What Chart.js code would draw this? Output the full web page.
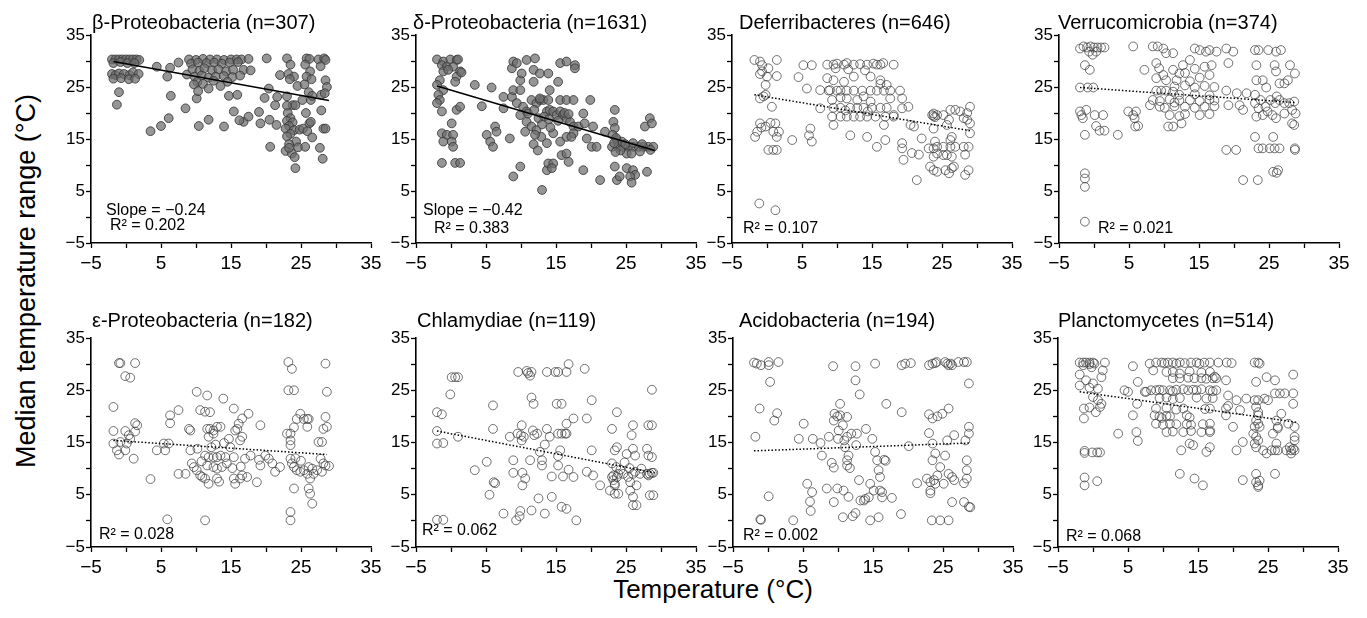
<!DOCTYPE html>
<html>
<head>
<meta charset="utf-8">
<script src="https://cdn.jsdelivr.net/npm/chart.js@4.4.1/dist/chart.umd.min.js"></script>
<style>
  body { margin: 0; background: #fff; }
  #wrap { position: relative; width: 1367px; height: 618px; overflow: hidden; font-family: "Liberation Sans", Arial, sans-serif; }
  #wrap canvas { position: absolute; }
  .axt { position: absolute; color: #000; white-space: nowrap; line-height: 1; }
  #ytitle { left: 26px; top: 281px; font-size: 27px; transform: translate(-50%, -50%) rotate(-90deg); }
  #xtitle { left: 713px; top: 576px; font-size: 26px; transform: translateX(-50%); }
</style>
</head>
<body>
<div id="wrap">
  <div class="axt" id="ytitle">Median temperature range (°C)</div>
  <div class="axt" id="xtitle">Temperature (°C)</div>
</div>
<script>
// panel info
const names = ["β-Proteobacteria", "δ-Proteobacteria", "Deferribacteres", "Verrucomicrobia",
               "ε-Proteobacteria", "Chlamydiae", "Acidobacteria", "Planctomycetes"];
const counts = [307, 1631, 646, 374, 182, 119, 194, 514];
const slopes = ["−0.24", "−0.42", null, null, null, null, null, null];
const r2 = ["0.202", "0.383", "0.107", "0.021", "0.028", "0.062", "0.002", "0.068"];
const filled = [true, true, false, false, false, false, false, false];

// regression lines: [x0, y0, x1, y1]
const fits = [
  [-1.8, 29.9, 29, 22.4],
  [-2, 25.2, 29.1, 12.8],
  [-1.8, 23.5, 29, 16.6],
  [-2, 24.9, 28.9, 22.0],
  [-1.8, 15.4, 28.7, 12.7],
  [-2, 17.2, 29.1, 9.2],
  [-2, 13.4, 28.7, 14.9],
  [-1.9, 24.7, 29, 18.9]
];

// axis ticks (labels only every 10)
const tickMin = -5, tickMax = 35, tickStep = 5;

// points [temperature, median range]
const betaPts = [[-2,30.3],[-1.5,30.3],[-1,30.3],[-0.5,30.3],[0,30.3],[0.5,30.3],[1,30.3],[1.5,30.3],[1.9,30.2],
  [-1.8,29.6],[-0.8,29.8],[0.2,29.6],[1.2,29.6],[-2,27.5],[-1.5,27.3],[-1,27.6],[-0.3,27.5],[0.5,27.3],[1,27.8],[1.8,27.5],
  [-1.8,26.6],[-0.7,26.7],[0.4,26.5],[1.3,26.6],[-1,24],[-1.3,21.6],
  [3.5,16.5],[5,17.5],[6.1,19],[6.4,23.3],[4.4,28.9],[5.9,27],[6.3,28.7],[7.5,29.7],[8.7,27.4],
  [9,30.3],[10,30.2],[11,30.4],[12,30.3],[13,30.3],[14,30.2],[15,30.3],[15.8,30.3],[16.5,30.3],[17.5,30.4],
  [9.3,29.5],[10.3,29.7],[11.5,29.6],[12.6,29.7],[13.7,29.5],[14.8,29.7],[16,29.8],
  [9.5,28.4],[10.5,28.1],[11.2,28.6],[12.3,28.2],[13.2,28.4],[14.3,28],[15.3,28.3],[16.8,28.3],[17.8,28.2],
  [9.8,27],[10.8,27.2],[11.8,26.8],[12.8,27],[14,27.1],[15.2,26.9],[16.3,27.2],
  [10.2,26],[11,25.6],[12.5,26.2],[14.5,26],[9.7,25.5],
  [8.5,20.9],[10.4,17.5],[11.8,18.7],[14,17.4],[14.7,23.3],[15.9,23.5],[15.4,20.3],[11.8,24.7],[13.5,25.2],[10.1,22.8],[10.3,24.2],[16.8,18.3],[17.5,19.3],[16.2,18.6],
  [20.1,30.5],[20.4,24.7],[19.2,18],[20.5,18.7],[20.6,13.5],[21.3,21.5],[21.5,17.7],[21.6,23.1],[22,27.3],[19,20.2],[19.8,22.9],
  [23,30.5],[23.5,29.3],[23.2,27.5],[24,27],[23.4,26.5],[24.5,25.2],[23,23.2],[23.8,21.5],[23,21.4],[24.2,21.5],[23.1,20],[23.5,19],[23,18.5],[23.8,18.2],[23.3,17.5],[22.8,17],[24,16.7],[23.5,16],[23,15.5],[24.3,14.5],[23.3,14],[24.6,13.4],[22.8,12.7],[23.7,12.2],[24.1,11.5],[24.2,9.4],[23.3,13.3],[24.8,16.8],
  [25.8,30.5],[26.2,30.4],[25.6,29.3],[26.3,28],[25.8,27],[26.5,26.5],[25.5,25.5],[26.1,24],[26.4,22.5],[25.7,20],[26.2,18],[25.3,17],[25.9,16.5],[26.6,15.3],[25.6,13.5],[26.4,18.3],[25.2,22.5],[26.6,23.3],
  [27.5,30.3],[28.3,30.5],[28.5,30.2],[27.8,29],[28.5,26.3],[28.7,25],[27.9,23.5],[28.4,23.8],[28.2,17],[28.5,17],[27.7,13.3],[28.1,11.2],[27.9,20.5]];

const deltaPts = [[-2,30.3],[-1.1,29.9],[-0.1,30.3],[0.8,30.2],[1,30.3],[-1.3,29.2],[-0.6,28.9],[0.3,28.9],[-1.1,28],[-0.4,28.3],[1.3,28],[0.8,27],[-1.6,26.3],[-2,25.4],[-1.1,24.4],[-1.8,23.5],[-1.6,22.5],[-2,21.9],[-1.3,20.3],[0.8,20.6],[1.3,21.2],[0.1,18],[-1.3,16.1],[-0.6,15.8],[0.3,15.8],[-1.1,14.5],[0.1,14.5],[0.3,13.5],[-1.3,10.4],[0.6,10.4],[1.3,10.4],[1.5,27.8],[0.6,26],
  [3.4,25.4],[5.8,24.9],[4.4,21.3],[5.1,15.8],[5.6,14.5],[6,13.5],[6.3,17.4],[6.5,16.4],[7.5,23.1],[7.5,20.9],[8.4,15.1],[8.9,7.8],[8.7,23.1],[8.9,24.4],[8.7,28.6],[8.9,29.9],[9.4,29.6],[9.9,26.3],[10.1,27.6],
  [9.9,24.4],[9.4,21.9],[10.3,21.2],[10.8,20.3],[11.5,22.5],[12.2,21.9],[12.7,22.5],[13.2,22.5],[13.7,20.3],[14.1,20.6],[14.6,20.3],[15.1,19.6],[15.6,20.3],[16,19.6],[16.5,19],[17,18.3],[17.5,17.4],[9.9,19.6],[10.8,18.3],[11.5,17.4],[12.2,16.7],[12.9,15.4],[13.7,14.2],[14.6,16.1],[15.6,14.5],[16.5,15.4],[17.5,16.1],[18.2,17.4],
  [11,19.9],[11.9,20.6],[12.5,19],[13.3,19.3],[14,18.8],[15.3,18.5],[16.2,20],[16.8,19.8],[13,17.8],[12,15.8],[11.8,14],[10.6,16.4],[12.4,12.8],[14.2,17.2],
  [10.8,30.2],[12,30.5],[11.8,28.3],[12.7,27.6],[13.9,27.6],[15.6,29.6],[16.5,29.9],[17.7,29.2],[17.7,28.6],[15.3,26],[11.8,26],[14.1,24.4],[12.7,22.8],[13.9,22.5],[15.6,22.5],[16.5,22.5],[17.5,22.5],[19.9,22.5],
  [9.9,9.7],[13,5.2],[13.7,9],[13.9,10.3],[14.6,10.3],[14.4,9.4],[15.8,11.9],[16.5,12.2],[16.8,10.6],[17.2,15.4],[18.9,9],[19.4,15.1],[18.9,19.9],[19.1,18],[20.3,17.4],[20.1,13.5],[20.8,13.5],[21.3,7.1],[22,16.4],
  [23.4,20.6],[23.2,18.3],[23.4,17.1],[23.1,15.8],[23.7,14.8],[23,13.5],[23.9,13.5],[24.6,13.5],[25.3,13.5],[26,13.5],[26.8,13.5],[27.5,13.5],[28.2,13.5],[28.9,13.5],[24.4,14.5],[26,14.2],[25.1,12.2],[25.8,12.2],[27,12.6],[23.4,9.7],[23.7,7.1],[24.1,7.8],[25.1,9.4],[26,9],[26.3,8.1],[25.6,7.8],[25.8,6.6],[28,8.7],[27.7,17.4],[28.4,19],[28.7,18],[23.6,15.2],[23.3,14.2],[24.2,12.8],[23.5,12.5],[27.3,14],[28.5,12.9],[24.9,14]];

const deferPts = [[-1.8,30.2],[-1,29.9],[-0.7,29.2],[-0.7,28],[0.2,28.6],[1.4,30.2],[-1,27.5],[0,27],[1.4,27.1],[-0.2,25.4],[-0.2,23.5],[-1,22.8],[-0.5,23.2],[0.7,21.2],[-1.7,15.4],[-1.4,16.4],[-1,18],[-0.8,17.2],[-0.2,17.4],[0.5,18.1],[1.2,18],[0.9,16.4],[1.4,15.4],[1.7,16.4],[0.2,12.9],[0.9,12.9],[1.4,12.9],[-1.1,2.6],[1.2,1.3],
  [3.6,14.8],[4.5,26.9],[5.2,29.2],[5.7,24.7],[6,15.7],[6.2,17],[6.4,14.5],[6.4,29.2],[7.6,20.9],[7.6,24.4],[8.6,26.7],[9,24.4],
  [8.6,29.3],[9.5,29.3],[10,29.5],[11,29.3],[11.4,29.6],[12.4,29.3],[13.3,29.4],[14.3,29.3],[15.2,29.5],[15.7,29.3],[16.2,29.3],[16.6,29.6],[18.1,29.3],[9.8,28.6],[11.6,28.4],[14,28.2],
  [8.8,24.3],[10,24.3],[10.5,24.3],[11.4,24.3],[12.4,24.3],[13.6,24.3],[14.8,24.3],[15.7,24.3],[16.7,24.3],[17.6,24.3],[19,24.3],
  [9.5,26.3],[11,26],[12.4,27],[14.8,27],[16.2,26.3],[17.1,25.4],[16.2,25.6],
  [9.3,22.5],[11.4,22.8],[12.9,22.5],[14.8,22.2],[17.6,22.8],[10.5,23],[13.8,23.2],
  [9.5,21],[10.5,21],[11.9,21],[12.9,21],[13.8,21],[15,21],[16.2,21],[17.1,21],[11.2,20.5],[14.4,20.3],
  [9.3,19.3],[10.5,19.3],[11.4,19.3],[12.4,19.3],[13.3,19.3],[14.3,19.3],[15.5,19.3],[16.9,19.3],[18.1,19.3],
  [9.5,17.7],[16.7,17.7],[18.1,19.6],[11.9,15.7],[14.3,15.4],[15.7,13.5],[16.9,14.8],
  [19.3,22.8],[19.3,20.9],[20.2,21.2],[19.3,14.2],[19.3,13.2],[19.5,11],[20.5,17.7],[21,17.4],[20.7,12.3],[21.7,12],[22.1,15.1],[21.4,7.1],
  [23.6,19.6],[23.8,19.4],[24,19.2],[23.8,19.9],[24.3,19.6],[25.2,19.6],[23.1,13.2],[23.8,13.2],[24.3,13.5],[25.2,13.5],[26.2,13.5],[26.9,13.5],[28.1,13.5],[28.8,13.5],[28.3,12],[23.8,11.6],[23.3,9.7],[23.8,9],[24.3,8.7],[25.5,9],[26.4,9.4],[26,8.4],[26.7,9.7],[28.3,8.1],[28.8,9],[23.8,17],[25.7,17.7],[26,18.7],[26.2,20.6],[26.9,20.6],[27.6,20.3],[28.6,20],[29,21.2],[28.6,18.7],[29,18],[29,16.1],[26.2,14.8],[26.4,15.4],[25.7,11.9],[25.2,11.9],[26.4,11.6],[24.3,12.2],[24,14.5],[28.1,19]];

const verrucoPts = [[-2,32.4],[-1.5,32.8],[-1,32.6],[-0.5,32.8],[0,32.6],[0.5,32.6],[1,32.6],[1.5,32.6],[-0.7,31.8],[0.3,31.8],[-0.2,31.2],[-1.3,29.2],[-0.6,28.3],[-2,24.9],[-0.9,24.9],[-0.1,24.9],[-2,20.3],[-1.8,19.6],[-1.6,19],[-1.1,20.6],[0.1,19.6],[1.3,19.6],[0.3,17.5],[0.8,16.6],[1.5,16.6],[-1.3,15.8],[-1.3,8.4],[-1.3,7.4],[-1.3,5.8],[-1.3,-0.9],
  [3.4,15.8],[4.9,20.3],[5.6,19.6],[5.8,19],[6,20.3],[5.9,17.4],[6.3,17.5],[5.6,32.8],[7.2,28.3],[8,21.5],
  [8.4,32.8],[9.1,32.8],[9.9,32.4],[10.3,31.5],[11.3,31.5],[8.9,29.6],[9.3,28.6],[9.9,27.3],[8.9,26.7],[8.9,24.3],[9.6,24.3],[10.3,24.3],[11.3,24.1],[10.3,26.3],[11.8,26.3],[12.2,27.6],[11.3,28.3],[12.7,29.2],[13.7,30.2],[14.4,32.4],[15.1,32.1],[16,31.8],[16.5,32.1],[17.5,31.8],[16.8,29.2],[18.9,32.4],[19.2,29.6],[19.9,31.8],[18.9,24.3],[19.2,21.5],[18.9,12.9],[20.3,12.9],[21.3,7.1],[20.8,21.5],[20.4,23.8],[21.8,23.8],[21.3,20.6],
  [8.4,22.5],[9.4,22.3],[10.8,22.6],[12.2,22.4],[13.7,22.5],[15.1,22.3],[16.5,22.6],[17.2,22.4],[11.5,22],
  [9.4,21.2],[10.1,21],[11.5,21.3],[13,21.2],[14.4,21],[15.8,21.2],[17.2,21.3],
  [10.8,19.6],[12.2,19.4],[13,19.8],[15.1,19.6],[16.5,19.8],
  [11.5,25.1],[13,25.3],[14.4,24.9],[15.8,25.2],[17.2,25],[12.2,23.5],[14.4,23.6],[16.5,23.4],[13.7,26.1],[15.1,26.8],[16.5,27.3],[14.4,28.5],[15.8,28.9],[13,27.7],
  [10.6,17.4],[11.3,17.4],[12.5,18],
  [23,32.1],[23.5,32.1],[24.9,32.1],[26,31.8],[26.7,32.1],[23.2,29.2],[25.8,29.2],[26,28],[28,29.2],[28.7,27.6],[27.2,25.7],[26.5,25.7],[27.7,26.3],[24.1,26.3],[23.2,26.3],[24.6,24.9],[23,23.5],[23.8,22.5],[23,21.9],[23.5,20.9],[24.5,21.2],[25.2,22.5],[25.9,21.9],[26.1,23.2],[26.5,22.5],[27.2,21.9],[27.9,21.9],[28.6,22.2],[28.3,20.6],[28.8,19.9],[23.2,19.3],[24.1,19.6],[24.8,20.3],[25.5,19.6],[26,19],[27.2,19.9],[28.3,18],[28.6,17.7],[23,15.4],[23.5,13.2],[24.1,13.2],[25.1,13.2],[25.8,13.2],[26.5,13.2],[28.7,13.2],[28.7,12.9],[25.6,15.4],[23.4,7.1],[25.6,8.7],[26.1,8.5],[26.3,9]];

const epsPts = [[-1,30.2],[-0.8,30.2],[1.3,30.2],[-0.1,27.7],[0.6,27.4],[-1.8,21.8],[-1.8,17.2],[-1.8,14.8],[-1.3,13.5],[-1,12.7],[-0.1,13.5],[-0.1,17.2],[0.4,16.4],[0.6,15.7],[0.1,14.8],[1.1,11.9],[1.3,18.7],[1.6,18.3],[1.3,17.1],[-0.8,15.1],
  [3.5,8],[4.4,13.5],[5.4,14.8],[5.6,13.5],[6.1,14.8],[6.3,20.2],[6.3,18.7],[5.9,0.3],[7.5,21.2],[7.5,9],
  [8.5,9],[9,17.6],[9.2,17.3],[10.1,24.7],[11.6,24],[10.6,21.2],[11.3,20.9],[12,20.8],[9.2,13.5],[9.4,11],[9.7,10.3],[10.1,9.7],[10.6,8.7],[10.9,8.4],[11.6,17.6],[12,17.6],[12.5,17.3],[13,18],[13.5,18],[12.5,16.7],[11.8,16.1],[11.3,12.5],[11.8,12.2],[12.5,12.2],[13,12.2],[13.5,12.5],[14.2,12.2],[11.6,10.6],[12.5,10.3],[13,10],[13.7,10.3],[14.4,11],[11.3,8.1],[11.8,7.1],[13,8.1],[13.9,23.4],[15.4,21.5],[14.7,15.7],[14.9,14.1],[15.4,12.2],[15.6,17.3],[15.9,17.6],[16.1,18.6],[16.6,19.6],[17.5,20.5],[16.3,15.4],[16.6,16.1],[15.4,8.1],[15.6,7.1],[16.3,8.1],[16.6,8.7],[17.3,8.4],[17,11.9],[17.8,12.5],[19.2,18.3],[19,11.7],[18.7,7.4],[19.2,10.6],[11.3,0.1],[10.2,13.8],[12.8,14.6],[14,14.9],[15.2,10.1],[16.4,10.4],[13.3,7.5],[12.2,14.1],[10.8,11.4],
  [19.9,12.5],[20.4,11.9],[20.9,11],[21.3,9.4],[22,10.3],[23,16.7],[23.2,25],[23.2,30.4],[23.7,29.1],[24,25],[23.5,16.7],[23.5,15.4],[23.5,14.5],[24,17.9],[24.4,19.5],[24.9,20.5],[25.4,19.5],[25.9,19.5],[26.1,19.5],[25.9,18],[23.5,11.9],[23.7,11],[24,10.3],[24.4,9.7],[24.9,9.4],[25.4,9.7],[25.9,9],[26.1,10.3],[26.6,10],[26.8,9],[24,6.2],[23.5,1.7],[23.5,0.1],[26.1,6.2],[26.3,5.2],[26.6,3.3],[26.3,8.1],[27.5,15.1],[28,15.1],[28.2,17.6],[28.5,19.9],[28.7,24.7],[28.5,30.1],[28.7,18],[27.8,11.9],[28.2,11],[28.5,10.6],[29,10.5],[28,9.4],[27.3,9.7],[24.2,12],[25,11.5]];

const chlamPts = [[-2,20.8],[-1.3,20.4],[-2,17.2],[-2,14.8],[-1.1,14.9],[-2,0.2],[-1.1,0.2],[-0.1,24.2],[0.1,27.5],[0.6,27.5],[1,27.5],[1,16.1],
  [3.4,9.7],[5.1,11.3],[5.5,5],[6,22.1],[6,17.6],[6.1,7.4],[6.3,7.2],[7.5,1.4],[8.4,16.1],[8.9,11.6],[8.9,9.2],[9.3,0.1],[9.5,16.7],[9.8,0.9],[9.9,1.9],[9.6,28.5],[10,16.4],[10.1,15.4],[10.1,18.3],[10.2,9.2],[10.4,16.1],[10.6,8.1],[10.2,6.8],[10.8,28.7],[11,28.3],[11.3,27.8],[11.5,28.5],[11.3,11.6],[11.5,23.6],[11.8,22.4],[11.7,17.3],[11.9,16.4],[12.3,16.7],[11.5,2],[12.5,4.3],[12.7,13.2],[13,11.6],[13,10.6],[13.4,1.4],[13.4,14.6],[13.7,17.6],[13.7,28.5],[14.1,16.1],[14.4,8.5],[14.4,4.6],[14.9,28.5],[15.3,28.5],[15.1,22.4],[15.8,22.4],[15.3,16.7],[15.8,16.7],[16.3,16.7],[16.5,16.7],[15.6,13.5],[15.3,12.4],[15.3,10.6],[16,8.5],[15.8,2.7],[16.5,2.3],[16.5,28.5],[16.8,30],[16.5,18.6],[17.5,19.6],[16.8,9.8],[17.5,8.4],[17.9,0.1],[19.1,29.1],[19.4,19.6],[19.4,9.4],[20.1,23.1],[20.1,13.5],[20.3,8.7],[21.3,6.8],
  [23,17.6],[23.7,20.8],[23.7,14.1],[23.4,13.5],[23,11],[23.2,8.7],[23,8.4],[23.2,7.8],[23.4,7.1],[22.7,5.8],[23.4,5.2],[23.7,8.4],[23.9,9],[23.4,6.8],[23.9,5.2],[24.6,9],[25.1,12.8],[25.3,8.4],[25.6,7.4],[25.6,5.8],[25.8,16.4],[26,18.3],[26,13.8],[26.3,12.5],[26,9],[26.3,9.4],[26,4.6],[26,3],[26.5,3],[26.5,6.8],[28,13.8],[28.2,12.5],[28,9],[28.2,8.7],[28.4,9],[28.2,18.3],[28.7,18.3],[28.7,9.2],[28.9,9.2],[28.7,12.2],[28.4,4.9],[28.9,4.9],[28.7,25.1],[27,9],[27.2,10],[24.2,9.8],[24.8,11.2],[25.5,10.1],[23.6,10.3]];

const acidoPts = [[-2,30.3],[-1.6,30.1],[-1,29.8],[0.1,30.4],[0.1,29.8],[1.5,30.4],[0.3,26.6],[0.9,19.2],[1.3,20.6],[-1.2,21.5],[-1.8,16.1],[-1.1,0.3],[-1,0.2],[0.1,4.7],
  [3.6,0.1],[5.1,18.6],[5.6,7.1],[4.4,15.7],[6.3,5.5],[6,3.7],[6.1,1.9],[6.4,15.7],[7.5,14.9],[7.7,12.5],[8.7,16.1],[8.4,6.2],[9.1,11.1],[9.4,19.2],[9.4,10.2],[9.4,3.6],[9.3,29.6],[9.5,20.5],[9.9,20],[10,15.7],[9.9,6.2],[10.1,17.3],[10.3,22.4],[10.7,18.3],[10.8,5.8],[10.9,15.4],[11,14.1],[10.3,20.2],[11.3,16.1],[10.7,0.7],[11.3,11.6],[11.5,12.5],[11.3,10.6],[11.7,10.1],[11.5,4.6],[11.3,19.9],[11.9,16.7],[12.1,0.9],[12.5,1.5],[12.5,29.6],[12.5,26.9],[12.6,14.5],[12.7,16.7],[13,7.8],[13.1,24.2],[13.2,3.9],[13.7,3.9],[13.9,4.2],[14,17.6],[14.4,4.5],[14.6,7.1],[14.6,0.1],[14.9,15.7],[15.1,5.8],[15.3,30.1],[15.3,13.2],[15.6,11.6],[15.8,9.7],[15.8,0.7],[16,5.8],[16.3,5.5],[16,8.4],[16.3,4.5],[16.6,11.7],[16.9,22.4],[16.8,11.5],[17.7,4.4],[19,1.3],[19.1,20.8],[19.1,29.8],[19.6,30.1],[20.1,14.3],[20.4,30.2],[21.3,7.2],
  [23,29.8],[23.5,30.1],[23.9,30.2],[24.1,30.4],[25.3,30.4],[25.6,30.1],[25.8,29.8],[26.1,30.1],[26.3,29.8],[27.2,30.4],[28,30.4],[28.4,30.4],[28.7,26.3],[23,20.4],[23.5,19.6],[24.2,20],[24.9,20.5],[25.8,21.5],[23,16.8],[23.5,14.8],[25.6,15.4],[26.6,16.4],[28.2,15.4],[28.7,18],[28.7,16.7],[23.5,11.6],[23.9,12.9],[24.6,10.3],[25.3,12.5],[22.7,8.1],[23.2,7.4],[23.7,7.8],[23.9,7.1],[24.2,8.7],[25.1,7.1],[25.8,9],[26.3,8.4],[26.6,7.8],[28,7.2],[28.4,8.1],[28.4,11.6],[28.4,9.7],[23.2,5.8],[23.2,5.3],[23.4,0.1],[24.6,0.1],[25.8,0.1],[26.3,3.6],[28,3.6],[28.7,2.7],[28.9,2.6]];

const plancPts = [[-1.9,30.3],[-1.4,30.3],[-1,30.3],[-0.5,30.3],[0,30.3],[0.2,30.1],[1.7,30.3],[-1.4,29.8],[-0.5,30],[-0.2,29.4],[1.4,28.8],[-1.9,28],[-1,26.9],[0,26.3],[0.7,25.3],[1.2,27.5],[-1.9,25.9],[-0.5,25.5],[0,23.7],[0.7,23.1],[-1.3,21.5],[-0.5,21.7],[0.4,20.8],[1,21.8],[1.2,22.4],[-1.3,19.6],[-1.2,13.4],[-1.2,13],[-0.1,13.1],[0.6,13.1],[1,13.1],[-1.2,8.3],[-1.2,6.8],[0.6,7.6],
  [3.6,16.7],[4.5,25],[5,24.7],[5.7,20.2],[5.7,29.6],[6.2,17],[6.4,26.6],[6.3,22.4],[6.4,15.3],[7.4,24.7],[7.6,24.7],[8.1,30.1],[8.6,28.8],
  [9,30.3],[9.8,30.3],[10.2,30.2],[10.7,30.3],[11.4,30.3],[11.9,30.1],[12.4,30.3],[13.1,30.2],[14,30.3],[14.8,30.3],[15.2,30.1],[15.9,30.3],[16.7,30.3],[17.9,30.3],[19.1,30.3],[19.8,30.2],
  [10.5,28.5],[11.4,28.5],[12.4,28.2],[13.8,28.6],[15.5,28.4],[16.7,28.5],
  [11.4,27.3],[12.4,27.3],[13.6,27.4],[14.5,27.3],[15.5,27.3],[16.2,27.2],[17.1,27.3],[17.4,27.6],[17.6,27.3],
  [8.3,25],[9,25],[9.5,25.1],[10,25],[11,25],[11.4,24.8],[11.9,25.1],[12.9,25.2],[13.6,25],[14.3,25.1],[14.8,25],[15.5,25.2],[16.7,25],[17.1,24.8],[17.6,25],
  [9.5,23.5],[10.5,23.6],[11.4,23.3],[12.4,23.5],[14.8,23.6],[16.2,23.4],[17.1,23.5],
  [9,21.5],[10.5,21.6],[11.9,21.3],[12.9,21.5],[16,21.4],[16.7,21.5],[19,21.5],
  [8.8,20.2],[9.5,20],[9.8,19.7],[10.5,20.1],[11,20],[13.4,20.2],[13.8,19.8],
  [9,18.6],[10,18.4],[11,18.6],[11.9,18.5],[13.4,18.5],[14,18.4],[15.7,18.5],[16.7,18.6],
  [10.5,17],[11.4,17.1],[12.9,17],[14,17.2],[15.5,17],[16.7,17],
  [12.4,9],[14.5,8.1],[15.7,6.8],[12.6,13.5],[13.8,14.8],[14.3,14.5],[16.2,13.2],[16.7,14.1],[16.7,17.3],
  [19,26.9],[19.3,24],[19,20.2],[19.3,22],[20.5,23.1],[20,18],[20.5,13.5],[21,21.2],[21.4,7.8],[21.4,15.1],[21.9,23.4],
  [23.1,30.3],[23.6,30.3],[23.8,30.1],[23.3,26.6],[23.6,23.1],[23.1,23.1],[23.3,21.8],[24.5,23.4],[25,23.1],[24.8,27.5],[26,26.9],[26,24.4],[26.7,24.4],[27.4,24.4],[28.6,24.4],[28.6,28],[28.6,22.4],[23.6,20.8],[23.6,20.2],[23.3,19.2],[23.6,18.6],[23.8,18],[23.1,18],[22.9,16.7],[23.3,16.1],[23.6,15.4],[23.3,14.1],[23.1,14.8],[24.3,13.5],[24.8,12.9],[25.5,13.5],[26,13.5],[26.4,13.5],[26.2,14.8],[25.7,16.7],[26.4,18],[26.2,19.2],[26.9,20.5],[26.4,17.7],[27.6,13.5],[28.3,13.5],[28.8,13.5],[28.8,15.4],[28.8,16.1],[28.8,18],[27.9,18.6],[28.1,14.1],[28.6,13.8],[23.3,9],[23.3,7.4],[23.6,6.8],[23.6,6.5],[23.8,7.7],[26,9],[28.3,12.9]];

const allPts = [betaPts, deltaPts, deferPts, verrucoPts, epsPts, chlamPts, acidoPts, plancPts];

// layout of the panels on the page (chart area corners)
const areaLeft = [91, 416, 732, 1059, 91, 416, 733, 1058];
const areaTop = [35, 35, 35, 35, 338, 338, 338, 338];
const areaH = [208, 208, 208, 208, 209, 209, 209, 209];
const titleDx = [1, -3, 7, -1, 1, 1, 6, 0];
const titleGap = [6, 6, 6, 6, 11, 11, 11, 11];
// text notes: [dx from left, dy above bottom]
const slopePos = [[15, 28], [7, 28]];
const r2Pos = [[19, 13], [18, 10], [11, 10], [39, 10], [8, 8], [6, 12], [10, 7], [8, 6]];

Chart.defaults.font.family = '"Liberation Sans", Arial, sans-serif';
Chart.defaults.color = "#000";

function fmtTick(v) {
  if ((v - tickMin) % 10 !== 0) return "";
  return v < 0 ? "\u2212" + Math.abs(v) : String(v);
}

const panelText = {
  id: "panelText",
  afterDraw(chart, args, opts) {
    const ctx = chart.ctx, a = chart.chartArea;
    ctx.save();
    ctx.fillStyle = "#000";
    ctx.textAlign = "left";
    ctx.textBaseline = "alphabetic";
    ctx.font = '20px "Liberation Sans", Arial, sans-serif';
    ctx.fillText(opts.title, a.left + opts.titleDx, a.top - opts.titleGap);
    ctx.font = '16px "Liberation Sans", Arial, sans-serif';
    opts.notes.forEach(n => ctx.fillText(n.text, a.left + n.dx, a.bottom - n.dy));
    ctx.restore();
  }
};

function axis(fontSize, pad, fit) {
  return {
    type: "linear",
    min: tickMin,
    max: tickMax,
    ticks: { stepSize: tickStep, autoSkip: false, maxRotation: 0, color: "#000",
             font: { size: fontSize }, padding: pad, callback: fmtTick },
    grid: { drawOnChartArea: false, drawTicks: true, tickLength: 5, color: "#000", tickWidth: 1.3 },
    border: { display: true, color: "#000", width: 1.6 },
    afterFit: fit
  };
}

const wrap = document.getElementById("wrap");

allPts.forEach((pts, i) => {
  const cv = document.createElement("canvas");
  const w = 360, h = areaH[i] + 75;
  cv.width = w; cv.height = h;
  cv.style.left = (areaLeft[i] - 60) + "px";
  cv.style.top = (areaTop[i] - 40) + "px";
  wrap.appendChild(cv);

  const notes = [];
  if (slopes[i]) notes.push({ text: "Slope = " + slopes[i], dx: slopePos[i][0], dy: slopePos[i][1] });
  notes.push({ text: "R\u00b2 = " + r2[i], dx: r2Pos[i][0], dy: r2Pos[i][1] });

  const f = fits[i];
  new Chart(cv, {
    type: "scatter",
    data: {
      datasets: [
        {
          data: [{ x: f[0], y: f[1] }, { x: f[2], y: f[3] }],
          showLine: true,
          borderColor: "#000",
          borderWidth: filled[i] ? 1.6 : 1.5,
          borderDash: filled[i] ? [] : [1.5, 2],
          pointRadius: 0,
          fill: false
        },
        {
          data: pts.map(p => ({ x: p[0], y: p[1] })),
          pointRadius: 4.4,
          pointBorderWidth: 1,
          pointBackgroundColor: filled[i] ? "rgba(110,110,110,0.72)" : "rgba(0,0,0,0)",
          pointBorderColor: filled[i] ? "rgba(55,55,55,0.85)" : "rgba(60,60,60,0.72)"
        }
      ]
    },
    options: {
      responsive: false,
      animation: false,
      devicePixelRatio: 1,
      layout: { padding: { left: 16, top: 40, right: 20, bottom: 3 } },
      plugins: {
        legend: { display: false },
        tooltip: { enabled: false },
        panelText: {
          title: names[i] + " (n=" + counts[i] + ")",
          titleDx: titleDx[i],
          titleGap: titleGap[i],
          notes: notes
        }
      },
      scales: {
        x: axis(19, 4, s => { s.height = 32; }),
        y: axis(17, 1, s => { s.width = 44; })
      }
    },
    plugins: [panelText]
  });
});
</script>
</body>
</html>
